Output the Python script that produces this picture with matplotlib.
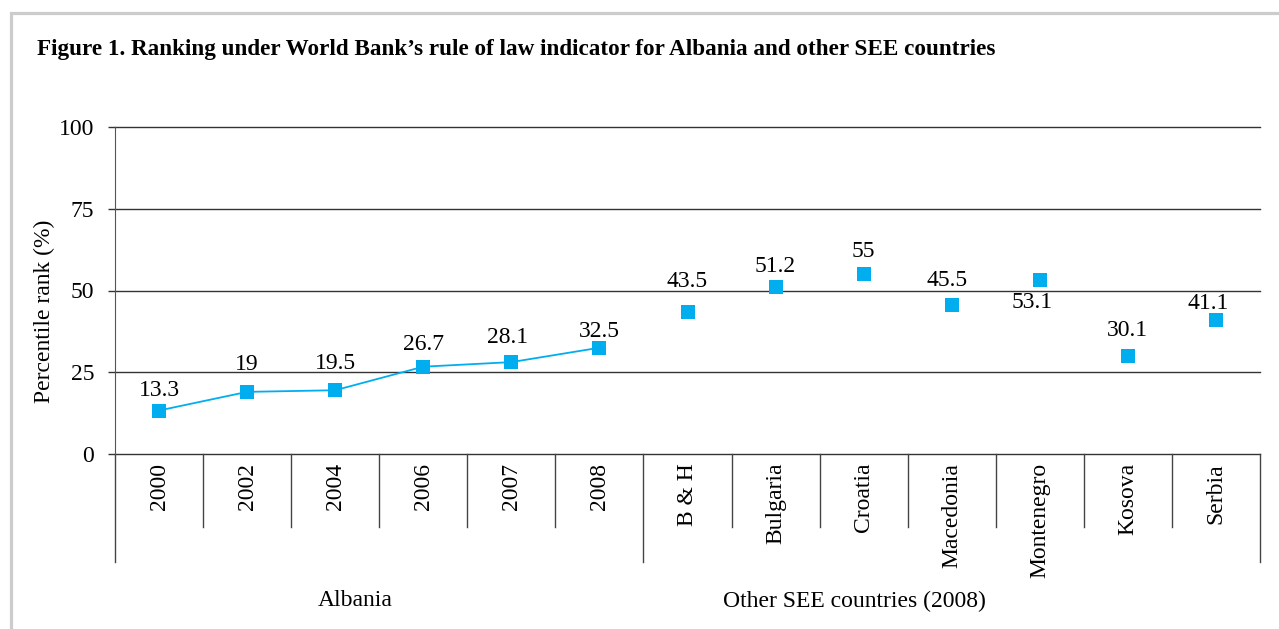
import matplotlib
matplotlib.use("Agg")
import matplotlib.pyplot as plt
from matplotlib.patches import Rectangle
import numpy as np

# Rule of law percentile rank
albania_years = ["2000", "2002", "2004", "2006", "2007", "2008"]
albania_values = [13.3, 19, 19.5, 26.7, 28.1, 32.5]
see_countries = ["B & H", "Bulgaria", "Croatia", "Macedonia", "Montenegro", "Kosova", "Serbia"]
see_values = [43.5, 51.2, 55, 45.5, 53.1, 30.1, 41.1]
value_labels = ["13.3", "19", "19.5", "26.7", "28.1", "32.5",
                "43.5", "51.2", "55", "45.5", "53.1", "30.1", "41.1"]
group_names = ["Albania", "Other SEE countries (2008)"]
y_ticks = [0, 25, 50, 75, 100]

title = "Figure 1. Ranking under World Bank\u2019s rule of law indicator for Albania and other SEE countries"

# label placement relative to each marker (pixels: right, up to baseline)
label_dx = [0, 0, 0, 0, -4, 0, 0, 0, 0, -5, -8, 0, -8]
label_dy = [15, 22, 21, 17, 19, 11, 25, 15, 17, 19, -28, 20, 11]

plt.rcParams["font.family"] = ["Liberation Serif", "DejaVu Serif"]
BLUE = "#00AEEF"
LINE = "#333333"
FS = 17
PX = 72 / 100  # points per pixel at 100 dpi

fig = plt.figure(figsize=(12.79, 6.29), dpi=100)
W, H = 1279, 629

# light page frame
fig.patches.append(Rectangle((11 / W, -0.2), 1.2, 1 - 13 / H + 0.2, transform=fig.transFigure,
                             fill=False, edgecolor="#cccccc", linewidth=2.3))

left, right, top, bottom = 115, 1260, 127, 454
ax = fig.add_axes([left / W, 1 - bottom / H, (right - left) / W, (bottom - top) / H])

categories = albania_years + see_countries
n = len(categories)
x_alb = np.arange(len(albania_years))
x_see = np.arange(len(albania_years), n)

ax.plot(x_alb, albania_values, color=BLUE, lw=1.3, marker="s", ms=9.5,
        markeredgewidth=0, zorder=3)
ax.plot(x_see, see_values, color=BLUE, lw=0, marker="s", ms=9.5,
        markeredgewidth=0, zorder=3)

all_values = albania_values + see_values
for i, (v, lab) in enumerate(zip(all_values, value_labels)):
    ax.annotate(lab, (i, v), xytext=(label_dx[i] * PX, label_dy[i] * PX),
                textcoords="offset points", ha="center", va="baseline", fontsize=FS)

ax.set_xlim(-0.5, n - 0.5)
ax.set_ylim(0, 100)
ax.set_yticks(y_ticks)
ax.set_yticklabels([str(t) for t in y_ticks], fontsize=FS)
ax.tick_params(axis="y", length=5, width=1, color=LINE, pad=10)
ax.set_xticks([])
for t in y_ticks:
    ax.axhline(t, color=LINE, lw=1, zorder=1, clip_on=False)

for s in ["top", "right", "bottom"]:
    ax.spines[s].set_visible(False)
ax.spines["left"].set_color("#555555")
ax.spines["left"].set_bounds(0, 100)

# category separators below the axis
short_y = (bottom - 527) / (bottom - top)
long_y = (bottom - 562) / (bottom - top)
trans = ax.get_xaxis_transform()
for k in range(n + 1):
    xpos = k - 0.5
    ybot = long_y if k in (0, len(albania_years), n) else short_y
    ax.plot([xpos, xpos], [0, ybot], color="#444444", lw=1, transform=trans, clip_on=False)

# category names
label_y = (bottom - 463) / (bottom - top)
for i, c in enumerate(categories):
    ax.text(i, label_y, c, rotation=90, ha="center", va="top", fontsize=FS,
            transform=trans)

# group names
group_y = (bottom - 601) / (bottom - top)
ax.text((355 - left) / (right - left), group_y, group_names[0], ha="center", va="center",
        fontsize=FS, transform=ax.transAxes)
ax.text((854 - left) / (right - left), group_y, group_names[1], ha="center", va="center",
        fontsize=FS, transform=ax.transAxes)

ax.text((44 - left) / (right - left), (bottom - 311) / (bottom - top), "Percentile rank (%)",
        rotation=90, ha="center", va="center", fontsize=FS, transform=ax.transAxes)

fig.text(37 / W, 1 - 50 / H, title, ha="left", va="center", fontsize=16.7, fontweight="bold")

fig.savefig("out.png", dpi=100, facecolor="white")
